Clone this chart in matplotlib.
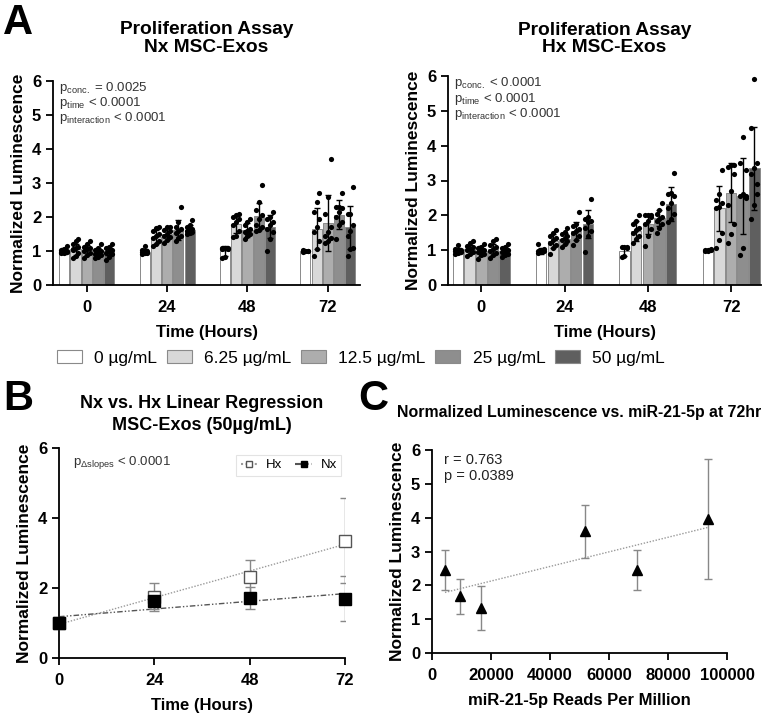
import numpy as np
import matplotlib
matplotlib.use("Agg")
import matplotlib.pyplot as plt
from matplotlib.patches import Patch
from matplotlib.lines import Line2D

plt.rcParams['font.family'] = ['Liberation Sans', 'DejaVu Sans']
plt.rcParams['mathtext.fontset'] = 'custom'
plt.rcParams['mathtext.rm'] = 'Liberation Sans'
plt.rcParams['mathtext.it'] = 'Liberation Sans'

# ---------------- data ----------------
times = ["0", "24", "48", "72"]
concs = ["0 µg/mL", "6.25 µg/mL", "12.5 µg/mL", "25 µg/mL", "50 µg/mL"]

nx_mean = [[1.00, 1.05, 1.03, 0.97, 1.00],
           [0.98, 1.42, 1.50, 1.62, 1.63],
           [1.00, 1.78, 1.62, 2.02, 1.72],
           [1.00, 1.65, 1.83, 2.07, 1.70]]
nx_sd = [[0.08, 0.17, 0.14, 0.13, 0.13],
         [0.08, 0.20, 0.18, 0.30, 0.13],
         [0.15, 0.25, 0.20, 0.40, 0.33],
         [0.02, 0.60, 0.83, 0.43, 0.63]]
hx_mean = [[0.98, 1.02, 0.97, 1.02, 0.97],
           [0.98, 1.27, 1.33, 1.55, 1.75],
           [0.98, 1.55, 1.75, 1.92, 2.32],
           [1.00, 2.20, 2.65, 2.55, 3.35]]
hx_sd = [[0.08, 0.13, 0.15, 0.17, 0.12],
         [0.08, 0.20, 0.15, 0.27, 0.40],
         [0.15, 0.30, 0.28, 0.22, 0.48],
         [0.02, 0.65, 0.85, 1.10, 1.20]]

nx_pts_0h = [[0.93, 0.95, 0.97, 0.98, 1.00, 1.00, 1.02, 1.05, 1.15],
             [0.78, 0.85, 0.95, 1.02, 1.08, 1.12, 1.20, 1.28, 1.35, 1.05],
             [0.80, 0.88, 0.95, 1.00, 1.05, 1.08, 1.12, 1.20, 1.30],
             [0.78, 0.82, 0.88, 0.92, 0.96, 1.00, 1.02, 1.10, 1.22],
             [0.75, 0.82, 0.90, 0.95, 1.00, 1.02, 1.08, 1.12, 1.20]]
nx_pts_24h = [[0.90, 0.93, 0.95, 0.97, 0.98, 1.00, 1.02, 1.15],
              [1.15, 1.22, 1.30, 1.38, 1.45, 1.50, 1.60, 1.68, 1.70],
              [1.25, 1.32, 1.40, 1.45, 1.50, 1.58, 1.62, 1.70, 1.72],
              [1.30, 1.38, 1.45, 1.52, 1.60, 1.65, 1.72, 1.85, 2.30],
              [1.50, 1.52, 1.55, 1.58, 1.62, 1.65, 1.70, 1.75, 1.90]]
nx_pts_48h = [[0.80, 0.82, 1.05, 1.08, 1.10, 1.10, 1.07],
              [1.40, 1.45, 1.60, 1.75, 1.85, 1.95, 2.00, 2.05, 2.10],
              [1.35, 1.45, 1.50, 1.55, 1.60, 1.65, 1.75, 1.85, 1.95],
              [1.60, 1.62, 1.70, 1.75, 1.95, 2.05, 2.20, 2.45, 2.95],
              [1.00, 1.35, 1.55, 1.65, 1.75, 1.85, 1.95, 2.00, 2.15]]
nx_pts_72h = [[0.98, 0.99, 1.00, 1.00, 1.00, 1.01, 1.02],
              [0.85, 1.05, 1.30, 1.55, 1.70, 1.95, 2.15, 2.45, 2.72],
              [1.25, 1.30, 1.38, 1.45, 1.55, 1.70, 2.10, 2.60, 3.70],
              [1.35, 1.75, 1.85, 2.00, 2.15, 2.25, 2.30, 2.30, 2.70],
              [0.85, 1.05, 1.10, 1.45, 1.60, 1.75, 2.10, 2.10, 2.88]]

hx_pts_0h = [[0.90, 0.93, 0.95, 0.97, 1.00, 1.00, 1.02, 1.15],
             [0.82, 0.88, 0.95, 1.00, 1.02, 1.08, 1.12, 1.20, 1.25],
             [0.75, 0.85, 0.90, 0.95, 0.98, 1.00, 1.05, 1.10, 1.18],
             [0.78, 0.85, 0.92, 0.98, 1.02, 1.08, 1.15, 1.25, 1.32],
             [0.80, 0.85, 0.90, 0.95, 0.98, 1.00, 1.05, 1.10, 1.18]]
hx_pts_24h = [[0.92, 0.95, 0.97, 0.98, 1.00, 1.02, 1.18],
              [0.88, 1.05, 1.15, 1.22, 1.30, 1.35, 1.42, 1.50, 1.57],
              [1.10, 1.18, 1.25, 1.30, 1.35, 1.40, 1.45, 1.52, 1.65],
              [1.15, 1.30, 1.42, 1.50, 1.55, 1.60, 1.68, 1.75, 2.10],
              [0.95, 1.40, 1.55, 1.65, 1.80, 1.85, 1.90, 1.95, 2.48]]
hx_pts_48h = [[0.80, 0.82, 1.05, 1.08, 1.10, 1.10],
              [1.20, 1.32, 1.40, 1.50, 1.58, 1.65, 1.75, 1.85, 2.00],
              [1.12, 1.40, 1.60, 1.75, 1.85, 1.95, 2.00, 2.00, 2.02],
              [1.50, 1.65, 1.75, 1.85, 1.90, 1.95, 2.05, 2.15, 2.35],
              [1.80, 1.90, 2.05, 2.20, 2.35, 2.55, 2.60, 2.65, 3.22]]
hx_pts_72h = [[0.97, 0.98, 1.00, 1.00, 1.01, 1.02],
              [1.05, 1.30, 1.50, 2.20, 2.25, 2.35, 2.45, 2.60, 3.30],
              [1.20, 1.45, 1.75, 2.30, 2.70, 3.20, 3.40, 3.45, 3.45],
              [0.85, 1.05, 2.50, 2.55, 2.60, 3.30, 3.50, 4.25, 2.55],
              [1.90, 2.30, 2.60, 3.20, 3.35, 3.50, 4.50, 5.90, 2.90]]

nx_pts = [nx_pts_0h, nx_pts_24h, nx_pts_48h, nx_pts_72h]
hx_pts = [hx_pts_0h, hx_pts_24h, hx_pts_48h, hx_pts_72h]

# Panel B (50 µg/mL)
b_hours = [0, 24, 48, 72]
b_hx_mean = [1.00, 1.75, 2.32, 3.35]
b_hx_sd = [0.08, 0.40, 0.48, 1.21]
b_nx_mean = [1.00, 1.62, 1.72, 1.70]
b_nx_sd = [0.08, 0.22, 0.32, 0.63]

# Panel C
c_reads = [4400, 9600, 16600, 52000, 69600, 93500]
c_lum = [2.45, 1.68, 1.34, 3.60, 2.45, 3.95]
c_err = [0.60, 0.52, 0.65, 0.78, 0.60, 1.77]

bar_colors = ['#ffffff', '#d8d8d8', '#adadad', '#8e8e8e', '#5f5f5f']

W, H = 768, 717
fig = plt.figure(figsize=(W / 100, H / 100), dpi=100)


def ax_rect(l, r, top, bot):
    return [l / W, 1 - bot / H, (r - l) / W, (bot - top) / H]


def style_axes(ax):
    for s in ['top', 'right']:
        ax.spines[s].set_visible(False)
    for s in ['left', 'bottom']:
        ax.spines[s].set_linewidth(1.3)
    ax.tick_params(direction='out', length=5, width=1.3, labelsize=12)
    ax.tick_params(axis='x', pad=6)
    for lab in ax.get_xticklabels() + ax.get_yticklabels():
        lab.set_fontweight('bold')


def bar_panel(ax, means, sds, pts, ptext):
    slot = 0.14
    bw = 0.125
    for g in range(len(times)):
        for j in range(len(concs)):
            x = g + (j - 2) * slot
            ax.bar(x, means[g][j], width=bw, color=bar_colors[j],
                   edgecolor='#8a8a8a', linewidth=0.7, zorder=2)
            vals = pts[g][j]
            offs = [((i % 3) - 1) * bw * 0.28 for i in range(len(vals))]
            ax.scatter([x + o for o in offs], vals, s=14, color='black',
                       zorder=3, linewidths=0)
            ax.errorbar(x, means[g][j], yerr=sds[g][j], color='black',
                        capsize=2.5, elinewidth=1.0, capthick=1.0, zorder=4)
    ax.set_xticks(range(len(times)))
    ax.set_xticklabels(times)
    ax.set_ylim(0, 6)
    ax.set_yticks(range(0, 7))
    ax.set_ylabel('Normalized Luminescence', fontsize=12.5, fontweight='bold', labelpad=4)
    ax.set_xlabel('Time (Hours)', fontsize=12, fontweight='bold', labelpad=7)
    style_axes(ax)
    y0 = 0.965
    for k, t in enumerate(ptext):
        ax.text(0.02, y0 - k * 0.073, t, transform=ax.transAxes, fontsize=9.5,
                color='#333333', va='center', ha='left')


# Panel A left
axA1 = fig.add_axes(ax_rect(53, 360, 81, 285))
bar_panel(axA1, nx_mean, nx_sd, nx_pts,
          [r'p$_{\mathregular{conc.}}$ = 0.0025',
           r'p$_{\mathregular{time}}$ < 0.0001',
           r'p$_{\mathregular{interaction}}$ < 0.0001'])
axA1.set_xlim(-0.42, 3.4)
axA1.set_title('Proliferation Assay\nNx MSC-Exos', fontsize=13.8, fontweight='bold',
               pad=21, linespacing=1.05)

# Panel A right
axA2 = fig.add_axes(ax_rect(448, 761, 76, 285))
bar_panel(axA2, hx_mean, hx_sd, hx_pts,
          [r'p$_{\mathregular{conc.}}$ < 0.0001',
           r'p$_{\mathregular{time}}$ < 0.0001',
           r'p$_{\mathregular{interaction}}$ < 0.0001'])
axA2.set_xlim(-0.4, 3.36)
axA2.set_title('Proliferation Assay\nHx MSC-Exos', fontsize=13.8, fontweight='bold',
               pad=17, linespacing=1.05)

handles = [Patch(facecolor=c, edgecolor='#8a8a8a', linewidth=0.8) for c in bar_colors]
fig.legend(handles, concs, loc='center', bbox_to_anchor=(361 / W, 1 - 358 / H),
           ncol=5, frameon=False, fontsize=12.5, handlelength=1.45, handleheight=0.8,
           columnspacing=0.55, handletextpad=0.7)

# Panel B
axB = fig.add_axes(ax_rect(59, 345, 448, 658))
hours = np.array(b_hours, dtype=float)
xx = np.array([hours.min(), hours.max()])
hx_fit = np.polyfit(hours, b_hx_mean, 1)
nx_fit = np.polyfit(hours, b_nx_mean, 1)
axB.plot(xx, np.polyval(hx_fit, xx), color='#9a9a9a', lw=1.0, ls=(0, (1, 1.2)), zorder=2)
axB.plot(xx, np.polyval(nx_fit, xx), color='#555555', lw=1.0, ls=(0, (4, 1.5, 1, 1.5, 1, 1.5)), zorder=2)
axB.errorbar(hours, b_hx_mean, yerr=b_hx_sd, fmt='none', ecolor='#888888',
             elinewidth=1.0, capsize=3.5, capthick=1.0, zorder=3)
axB.errorbar(hours, b_nx_mean, yerr=b_nx_sd, fmt='none', ecolor='#888888',
             elinewidth=1.0, capsize=3.5, capthick=1.0, zorder=3)
axB.plot(hours, b_hx_mean, ls='none', marker='s', ms=9, mfc='white', mec='#555555', mew=1.0, zorder=4,
         clip_on=False)
axB.plot(hours, b_nx_mean, ls='none', marker='s', ms=9, mfc='black', mec='black', zorder=5,
         clip_on=False)
axB.set_xlim(0, 72)
axB.set_ylim(0, 6)
axB.set_xticks(b_hours)
axB.set_yticks([0, 2, 4, 6])
axB.set_xlabel('Time (Hours)', fontsize=12, fontweight='bold', labelpad=7)
axB.set_ylabel('Normalized Luminescence', fontsize=12.5, fontweight='bold', labelpad=4)
axB.set_title('Nx vs. Hx Linear Regression\nMSC-Exos (50µg/mL)', fontsize=13, fontweight='bold',
              pad=13, linespacing=1.4)
style_axes(axB)
axB.text(0.05, 0.93, r'p$_{\mathregular{\Delta slopes}}$ < 0.0001', transform=axB.transAxes,
         fontsize=9.5, color='#333333', va='center')
leg_h = [Line2D([], [], color='#9a9a9a', ls=(0, (1, 1.2)), marker='s', ms=5, mfc='white', mec='#555555'),
         Line2D([], [], color='#555555', ls=(0, (4, 1.5, 1, 1.5)), marker='s', ms=5, mfc='black', mec='black')]
lgB = axB.legend(leg_h, ['Hx', 'Nx'], loc='upper right', ncol=2, fontsize=9.5,
                 handlelength=1.3, columnspacing=1.0, handletextpad=0.6,
                 bbox_to_anchor=(1.01, 1.0), frameon=True, fancybox=False, borderpad=0.35)
lgB.get_frame().set_edgecolor('#dddddd')
lgB.get_frame().set_linewidth(0.8)

# Panel C
axC = fig.add_axes(ax_rect(432, 727, 450, 653))
cx = np.array(c_reads, dtype=float)
cfit = np.polyfit(cx, c_lum, 1)
cxx = np.array([cx.min(), cx.max()])
axC.plot(cxx, np.polyval(cfit, cxx), color='#999999', lw=1.0, ls=(0, (1, 1.2)), zorder=2)
axC.errorbar(cx, c_lum, yerr=c_err, fmt='none', ecolor='#888888', elinewidth=1.0,
             capsize=3.0, capthick=1.0, zorder=3)
axC.plot(cx, c_lum, ls='none', marker='^', ms=7.5, color='black', zorder=4)
axC.set_xlim(0, 100000)
axC.set_ylim(0, 6)
axC.set_xticks(range(0, 100001, 20000))
axC.set_yticks(range(0, 7))
axC.set_xlabel('miR-21-5p Reads Per Million', fontsize=12, fontweight='bold', labelpad=7)
axC.set_ylabel('Normalized Luminescence', fontsize=12.5, fontweight='bold', labelpad=4)
axC.set_title('Normalized Luminescence vs. miR-21-5p at 72hr', fontsize=11.4,
              fontweight='bold', pad=24)
style_axes(axC)
axC.text(0.04, 0.95, 'r = 0.763', transform=axC.transAxes, fontsize=10.5, color='#222222', va='center')
axC.text(0.04, 0.87, 'p = 0.0389', transform=axC.transAxes, fontsize=10.5, color='#222222', va='center')

# panel letters
fig.text(3 / W, 1 - 23 / H, 'A', fontsize=30, fontweight='bold', va='center', ha='left')
fig.text(3 / W, 1 - 399 / H, 'B', fontsize=30, fontweight='bold', va='center', ha='left')
fig.text(358 / W, 1 - 399 / H, 'C', fontsize=30, fontweight='bold', va='center', ha='left')

fig.savefig('out.png', dpi=100)
